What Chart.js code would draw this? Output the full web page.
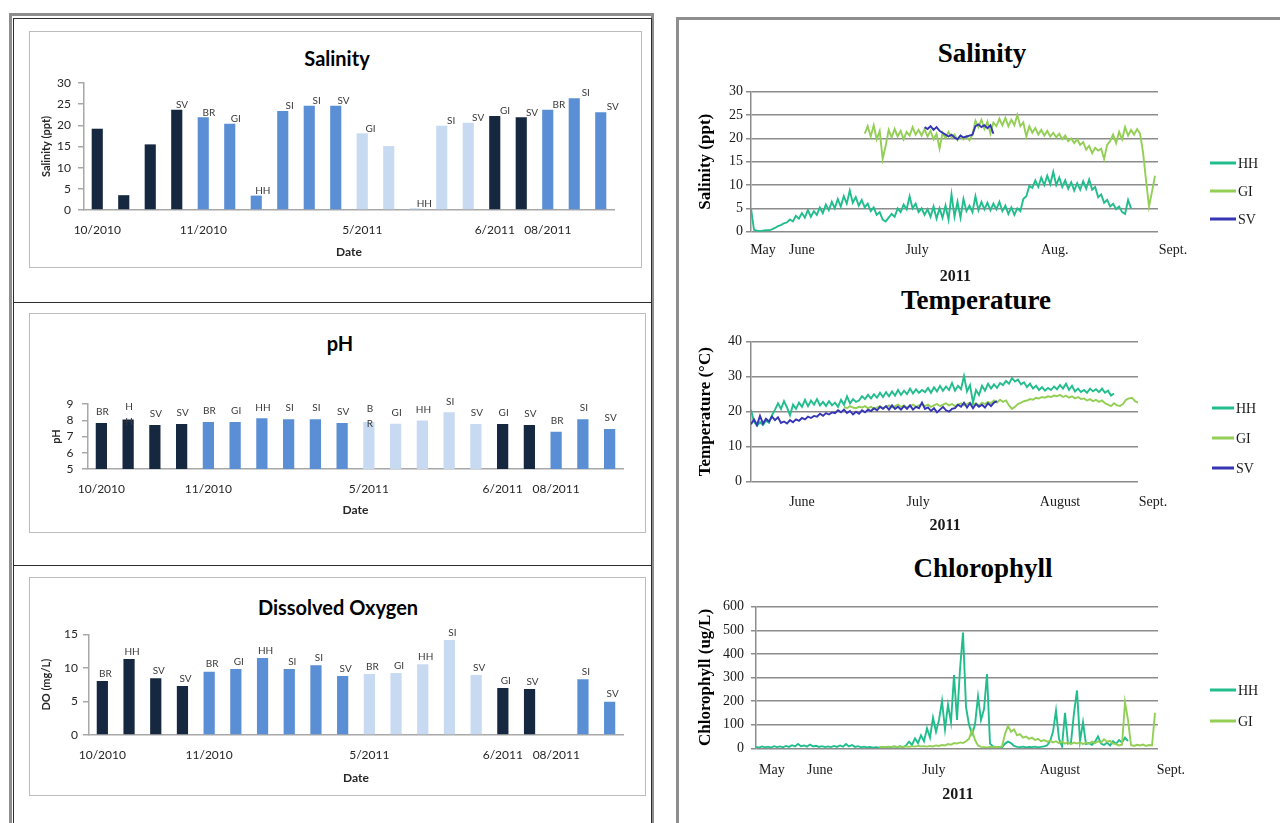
<!DOCTYPE html>
<html>
<head>
<meta charset="utf-8">
<script src="https://cdn.jsdelivr.net/npm/chart.js@4.4.0/dist/chart.umd.min.js"></script>
<style>
  html, body { margin: 0; padding: 0; background: #fff; width: 1280px; height: 823px; overflow: hidden; }
  .frame { position: absolute; border: 3px solid #8e8e8e; }
  .panel { position: absolute; border: 1px solid #2e2e2e; }
  .box { position: absolute; border: 1.5px solid #bcbcbc; }
  .ttl { position: absolute; transform: translate(-50%, -50%); white-space: nowrap; line-height: 1; color: #000; }
  .ttl.l { font: bold 20px Lato, sans-serif; }
  .ttl.r { font: bold 27px "Liberation Serif", serif; }
  canvas { position: absolute; }
</style>
</head>
<body>

<div class="frame" style="left:9px;top:13px;width:639px;height:900px"></div>
<div class="panel" style="left:13px;top:18px;width:637px;height:283px"></div>
<div class="panel" style="left:13px;top:302px;width:637px;height:262px"></div>
<div class="panel" style="left:13px;top:565px;width:637px;height:400px"></div>
<div class="box" style="left:29px;top:31px;width:611px;height:235px"></div>
<div class="box" style="left:29px;top:313px;width:615px;height:218px"></div>
<div class="box" style="left:29px;top:577px;width:615px;height:217px"></div>
<div class="frame" style="left:676px;top:17px;width:700px;height:900px"></div>

<div class="ttl l" style="left:337px;top:58px">Salinity</div>
<div class="ttl l" style="left:340px;top:343px">pH</div>
<div class="ttl l" style="left:338px;top:607px">Dissolved Oxygen</div>
<div class="ttl r" style="left:982px;top:53px">Salinity</div>
<div class="ttl r" style="left:976px;top:300px">Temperature</div>
<div class="ttl r" style="left:983px;top:568px">Chlorophyll</div>

<canvas id="barSal" width="610" height="236" style="left:31px;top:32px;width:610px;height:236px"></canvas>
<canvas id="barPh" width="615" height="219" style="left:31px;top:314px;width:615px;height:219px"></canvas>
<canvas id="barDo" width="615" height="218" style="left:31px;top:578px;width:615px;height:218px"></canvas>
<canvas id="lineSal" width="585" height="230" style="left:690px;top:62px;width:585px;height:230px"></canvas>
<canvas id="lineTemp" width="585" height="230" style="left:690px;top:315px;width:585px;height:230px"></canvas>
<canvas id="lineChl" width="585" height="230" style="left:690px;top:585px;width:585px;height:230px"></canvas>

<script>
// survey bars: one bar per site visit, shaded by sampling round
const surveyDates = ['10/2010','','','','11/2010','','','','','','5/2011','','','','','6/2011','','08/2011','',''];
const surveyRound = [0,0,0,0,1,1,1,1,1,1,2,2,2,2,2,0,0,1,1,1];

const salSites  = ['','','','SV','BR','GI','HH','SI','SI','SV','GI','','HH','SI','SV','GI','SV','BR','SI','SV'];
const salValues = [19.2,3.5,15.5,23.7,21.9,20.4,3.4,23.4,24.6,24.6,18.1,15.1,0.4,19.9,20.6,22.2,21.9,23.7,26.4,23.1];

const phSites  = ['BR','H\nH','SV','SV','BR','GI','HH','SI','SI','SV','B\nR','GI','HH','SI','SV','GI','SV','BR','SI','SV'];
const phValues = [7.83,8.04,7.71,7.77,7.89,7.89,8.12,8.06,8.06,7.83,7.89,7.79,7.99,8.49,7.77,7.77,7.71,7.3,8.06,7.46];

const doSites  = ['BR','HH','SV','SV','BR','GI','HH','SI','SI','SV','BR','GI','HH','SI','SV','GI','SV','','SI','SV'];
const doValues = [8.05,11.33,8.45,7.3,9.44,9.84,11.48,9.84,10.38,8.79,9.09,9.24,10.53,14.16,8.94,7.0,6.86,null,8.3,4.97];

// continuous logger records, 2011 (x = reading number)
const salHHStart = 0;
const salHH = [5.0,0.4,0.2,0.1,0.2,0.3,0.3,0.5,0.8,1.2,
  1.4,1.8,2.0,2.6,2.2,3.4,2.8,4.0,3.0,4.6,
  3.2,4.4,3.6,5.2,4.0,5.8,4.6,6.4,5.0,7.0,
  5.4,7.6,6.0,8.8,6.2,7.4,5.6,6.8,5.2,6.0,
  4.4,5.2,3.6,4.2,2.6,2.2,3.0,3.8,3.2,5.0,
  4.2,5.8,4.8,7.6,5.0,6.0,4.2,5.0,3.6,4.8,
  3.2,5.4,2.8,5.0,3.0,5.6,2.6,8.0,3.2,6.4,
  3.0,7.0,4.4,5.6,4.2,7.6,4.6,6.4,4.8,6.2,
  4.6,6.0,4.8,6.4,4.4,5.6,3.8,5.2,3.6,5.0,
  4.4,7.0,7.6,9.8,9.4,11.0,9.6,11.6,10.0,12.0,
  10.2,12.8,10.0,11.6,9.6,11.0,9.2,10.6,8.8,10.4,
  9.0,10.8,9.2,11.2,9.0,9.6,7.4,8.0,6.2,6.8,
  5.4,6.0,4.8,5.4,4.2,3.8,6.8,5.0];
const salGIStart = 38;
const salGI = [21.0,22.6,20.4,22.8,19.8,21.6,15.6,18.4,21.8,20.2,
  22.0,20.4,21.6,19.8,21.4,20.6,22.4,20.8,21.8,20.6,
  22.0,20.4,21.6,19.8,21.0,17.8,21.2,20.0,21.4,20.2,
  20.8,19.6,20.6,19.8,20.4,19.6,20.8,23.8,22.4,24.0,
  22.0,23.6,21.0,23.4,22.6,24.2,22.8,24.4,22.6,24.0,
  22.8,25.0,22.6,23.4,20.4,22.6,21.2,22.2,20.8,21.8,
  20.6,21.6,20.4,21.2,20.2,21.0,19.8,20.6,19.4,20.0,
  19.0,19.8,18.6,19.2,17.6,18.4,16.8,18.0,17.4,17.8,
  15.6,18.6,19.4,20.8,19.0,21.4,19.8,22.4,20.6,21.8,
  20.8,22.0,21.0,17.0,11.0,5.4,8.6,12.0];
const salSVStart = 58;
const salSV = [22.4,22.0,22.6,21.8,22.4,21.6,21.2,20.8,20.4,20.8,
  20.2,19.8,20.6,20.2,20.4,20.6,20.8,22.6,23.0,22.4,22.8,22.2,22.8,21.0];
const salMonthAt = [4, 17, 55.5, 101.5, 141];
const salMonthNames = ['May', 'June', 'July', 'Aug.', 'Sept.'];

const tempHHStart = 0;
const tempHH = [20.5,17.2,16.0,17.0,16.2,17.4,16.8,19.0,20.6,22.4,
  20.8,23.0,21.2,19.0,22.0,20.8,22.6,21.4,23.4,21.6,
  23.2,22.0,23.6,21.8,22.8,21.6,23.0,21.8,22.6,21.4,
  23.4,22.0,24.4,22.4,23.6,22.8,23.2,24.4,23.6,24.8,
  23.8,25.0,24.0,25.4,24.2,25.6,24.4,25.8,24.6,26.2,
  24.8,26.0,25.0,26.6,25.2,26.4,25.4,26.2,25.6,26.8,
  25.4,27.0,25.8,27.4,26.0,27.2,26.2,28.2,26.0,27.4,
  26.4,30.2,25.8,27.6,22.6,26.2,24.8,27.4,26.0,28.0,
  26.6,27.8,26.8,28.2,27.6,28.8,28.0,29.6,28.6,29.2,
  27.8,28.4,27.0,28.0,26.6,27.4,26.2,27.0,26.0,26.8,
  26.2,27.2,26.4,27.6,26.6,28.0,26.2,27.4,25.8,26.6,
  25.6,26.2,25.4,26.6,25.8,26.4,25.6,26.6,25.4,26.0,
  24.6,25.2];
const tempGIStart = 31;
const tempGI = [21.4,21.0,21.6,21.2,21.0,21.4,21.2,21.6,21.0,21.4,
  20.8,21.2,21.6,21.0,21.4,21.8,21.2,21.6,22.0,21.4,
  21.8,21.2,21.6,22.0,21.4,21.8,22.2,21.6,22.0,21.4,
  21.8,22.2,21.6,22.0,22.4,21.8,22.2,21.6,22.0,22.4,
  21.8,22.2,22.6,22.0,22.4,21.8,22.6,22.2,22.8,22.4,
  23.2,22.6,23.4,22.8,23.2,21.8,20.8,21.4,22.2,22.6,
  23.0,23.2,23.6,23.4,24.0,23.8,24.2,24.0,24.4,24.2,
  24.6,24.4,24.8,24.2,24.6,24.0,24.4,23.8,24.2,23.6,
  23.8,23.2,23.6,23.0,23.4,22.8,23.2,22.4,22.0,21.6,
  22.4,21.8,21.6,22.2,23.4,23.8,24.0,23.0,22.6];
const tempSVStart = 0;
const tempSV = [16.4,17.8,16.2,18.8,16.6,18.0,17.2,18.6,17.6,18.4,
  16.8,17.2,16.6,17.6,17.0,17.8,17.4,18.2,17.8,18.6,
  18.2,18.8,18.6,19.4,18.8,19.6,19.2,19.8,19.6,20.4,
  19.8,20.6,19.6,20.2,19.2,20.0,19.4,20.4,19.8,20.6,
  20.2,21.0,20.4,21.4,20.8,21.6,20.6,21.8,20.8,21.4,
  20.6,21.6,20.8,21.8,20.6,21.4,21.0,22.6,20.8,21.2,
  20.2,21.0,19.8,20.6,21.4,20.4,20.0,20.8,21.0,22.0,
  21.4,22.6,21.2,22.4,21.0,22.2,21.4,22.0,21.2,22.4,
  21.6,22.6,23.0];
const tempMonthAt = [17, 55.7, 103, 134];
const tempMonthNames = ['June', 'July', 'August', 'Sept.'];

const chlHHStart = 0;
const chlHH = [6,3,8,4,7,3,9,5,8,4,
  10,6,13,8,18,9,12,7,16,8,
  11,6,9,5,8,5,10,6,12,7,
  18,8,14,6,9,4,7,4,6,3,
  5,3,6,4,7,4,8,5,9,5,
  12,28,14,42,22,55,30,85,45,130,
  70,120,200,80,185,110,310,120,335,490,
  175,100,60,100,220,120,165,315,20,8,
  5,6,4,20,28,22,10,6,5,7,
  4,6,5,7,4,6,8,12,30,70,
  160,40,8,150,20,25,150,245,30,110,
  18,22,15,28,50,20,14,24,12,30,
  18,35,25,45,30];
const chlGIStart = 41;
const chlGI = [4,6,5,7,5,8,6,7,5,8,
  6,9,7,10,8,9,7,10,8,12,
  10,14,12,18,15,22,20,25,22,30,
  40,78,35,12,6,5,4,6,5,6,
  5,8,60,95,70,80,55,60,45,50,
  40,45,35,40,30,35,28,32,25,30,
  22,28,20,26,18,24,20,26,18,24,
  20,28,22,30,24,38,28,32,20,18,
  12,15,195,120,14,10,15,12,16,10,
  14,12,150];
const chlMonthAt = [5.3, 21.3, 59.3, 101.3, 138.3];
const chlMonthNames = ['May', 'June', 'July', 'August', 'Sept.'];

const roundColors = ['#162840', '#5a8fd6', '#c7daf2'];
const siteColors = { HH: '#21bd8d', GI: '#93cf55', SV: '#3535b5' };

Chart.defaults.font.family = 'Lato, sans-serif';

// station codes written above each bar
const siteLabels = {
  id: 'siteLabels',
  afterDatasetsDraw(chart, args, o) {
    const ctx = chart.ctx;
    const meta = chart.getDatasetMeta(0);
    ctx.save();
    ctx.font = '10px Lato, sans-serif';
    ctx.fillStyle = '#3a3a3a';
    ctx.textAlign = 'center';
    ctx.textBaseline = 'middle';
    meta.data.forEach((bar, i) => {
      const txt = o.labels[i];
      if (!txt || !Number.isFinite(bar.y)) return;
      const lines = txt.split('\n');
      const x = bar.x + o.dx + o.drift * i;
      const y0 = bar.y - o.dy - (lines.length - 1) * 2;
      lines.forEach((ln, k) => ctx.fillText(ln, x, y0 + k * 15));
    });
    ctx.restore();
  }
};

function barChart(id, values, sites, c) {
  new Chart(document.getElementById(id), {
    type: 'bar',
    data: {
      labels: surveyDates,
      datasets: [{
        data: values,
        backgroundColor: surveyRound.map(r => roundColors[r]),
        categoryPercentage: 1,
        barPercentage: 0.42
      }]
    },
    options: {
      responsive: false,
      animation: false,
      layout: { padding: { top: c.top, right: c.right, bottom: 0, left: 0 } },
      plugins: {
        legend: { display: false },
        tooltip: { enabled: false },
        siteLabels: { labels: sites, dx: c.dx, drift: c.drift, dy: c.dy }
      },
      scales: {
        x: {
          grid: { display: false, drawTicks: false },
          border: { color: '#a8a8a8', width: 1.5 },
          ticks: { autoSkip: false, maxRotation: 0, padding: 12.8, color: '#262626', font: { size: 12 } },
          title: { display: true, text: 'Date', color: '#262626', font: { size: 12, weight: 'bold' }, padding: { top: 0, bottom: c.dateGap } },
          afterFit: s => { s.height = c.xh; }
        },
        y: {
          min: c.min, max: c.max,
          ticks: { stepSize: c.step, autoSkip: false, padding: c.tickPad, color: '#262626', font: { size: 12 } },
          grid: { drawOnChartArea: false, drawTicks: true, tickLength: 6, color: '#a8a8a8', lineWidth: 1.5 },
          border: { color: '#a8a8a8', width: 1.5 },
          title: { display: true, text: c.yTitle, color: '#262626', font: { size: 11, weight: 'bold' }, padding: { top: c.titleGap, bottom: 0 } },
          afterFit: s => { s.width = c.yw; }
        }
      }
    },
    plugins: [siteLabels]
  });
}

barChart('barSal', salValues, salSites, {
  top: 51, right: 27, xh: 58, yw: 53, min: 0, max: 30, step: 5,
  tickPad: 7, titleGap: 8.4, dateGap: 8.8, yTitle: 'Salinity (ppt)', dx: 4, drift: 0.42, dy: 5
});
barChart('barPh', phValues, phSites, {
  top: 90, right: 23, xh: 64, yw: 57, min: 5, max: 9, step: 1,
  tickPad: 8.5, titleGap: 18.4, dateGap: 15.8, yTitle: 'pH', dx: 1, drift: 0, dy: 11
});
barChart('barDo', doValues, doSites, {
  top: 56.3, right: 23, xh: 61, yw: 58, min: 0, max: 15, step: 5,
  tickPad: 5, titleGap: 8.4, dateGap: 10.8, yTitle: 'DO (mg/L)', dx: 3, drift: 0, dy: 7.5
});

// month names, year and legend below/beside the logger plots
const monthAxis = {
  id: 'monthAxis',
  afterDraw(chart, args, o) {
    const { ctx, chartArea } = chart;
    const x = chart.scales.x;
    ctx.save();
    ctx.fillStyle = '#1a1a1a';
    ctx.textAlign = 'center';
    ctx.textBaseline = 'middle';
    ctx.font = '14px "Liberation Serif", serif';
    o.at.forEach((v, i) => ctx.fillText(o.names[i], x.getPixelForValue(v), chartArea.bottom + o.tickGap));
    ctx.font = 'bold 16px "Liberation Serif", serif';
    ctx.fillText('2011', x.getPixelForValue(o.yearAt), chartArea.bottom + o.yearGap);
    ctx.textAlign = 'left';
    ctx.font = '14px "Liberation Serif", serif';
    chart.data.datasets.forEach((ds, i) => {
      const y = o.legendY[i];
      ctx.strokeStyle = ds.borderColor;
      ctx.lineWidth = 3;
      ctx.beginPath();
      ctx.moveTo(o.legendX, y);
      ctx.lineTo(o.legendX + o.legendLine, y);
      ctx.stroke();
      ctx.fillText(ds.label, o.legendX + o.legendLine + 2, y + 1);
    });
    ctx.restore();
  }
};

function lineChart(id, series, c) {
  new Chart(document.getElementById(id), {
    type: 'line',
    data: {
      datasets: series.map(s => ({
        label: s.name,
        data: s.values.map((v, i) => ({ x: s.start + i, y: v })),
        borderColor: siteColors[s.name],
        borderWidth: 1.9,
        pointRadius: 0,
        tension: 0,
        fill: false,
        order: s.order
      }))
    },
    options: {
      responsive: false,
      animation: false,
      layout: { padding: { top: c.top, right: c.right, bottom: c.bottom, left: 0 } },
      plugins: {
        legend: { display: false },
        tooltip: { enabled: false },
        monthAxis: {
          at: c.monthAt, names: c.monthNames, tickGap: c.tickGap, yearAt: c.yearAt, yearGap: c.yearGap,
          legendX: c.legendX, legendLine: c.legendLine, legendY: c.legendY
        }
      },
      scales: {
        x: { type: 'linear', min: 0, max: c.xMax, display: false },
        y: {
          min: 0, max: c.yMax,
          ticks: { stepSize: c.step, autoSkip: false, padding: c.tickPad, color: '#1a1a1a', font: { family: '"Liberation Serif", serif', size: 14 } },
          grid: { color: '#8c8c8c', lineWidth: 1.5, tickLength: 5 },
          border: { color: '#8c8c8c', width: 1.5 },
          title: { display: true, text: c.yTitle, color: '#000', font: { family: '"Liberation Serif", serif', size: 17, weight: 'bold' }, padding: { top: 5.8, bottom: 0 } },
          afterFit: s => { s.width = c.yw; }
        }
      }
    },
    plugins: [monthAxis]
  });
}

lineChart('lineSal', [
  { name: 'HH', start: salHHStart, values: salHH, order: 3 },
  { name: 'GI', start: salGIStart, values: salGI, order: 2 },
  { name: 'SV', start: salSVStart, values: salSV, order: 1 }
], {
  top: 29.7, right: 117, bottom: 60.3, yw: 61, xMax: 136, yMax: 30, step: 5, tickPad: 3,
  yTitle: 'Salinity (ppt)', monthAt: salMonthAt, monthNames: salMonthNames, tickGap: 18.3,
  yearAt: 68.3, yearGap: 45.3, legendX: 520, legendLine: 26, legendY: [101, 129, 157]
});

lineChart('lineTemp', [
  { name: 'HH', start: tempHHStart, values: tempHH, order: 2 },
  { name: 'GI', start: tempGIStart, values: tempGI, order: 3 },
  { name: 'SV', start: tempSVStart, values: tempSV, order: 1 }
], {
  top: 26.7, right: 137, bottom: 63.3, yw: 61, xMax: 129, yMax: 40, step: 10, tickPad: 4,
  yTitle: 'Temperature (\u00B0C)', monthAt: tempMonthAt, monthNames: tempMonthNames, tickGap: 20.3,
  yearAt: 64.7, yearGap: 44.3, legendX: 522, legendLine: 22, legendY: [93, 123, 153]
});

lineChart('lineChl', [
  { name: 'HH', start: chlHHStart, values: chlHH, order: 2 },
  { name: 'GI', start: chlGIStart, values: chlGI, order: 1 }
], {
  top: 21.7, right: 117, bottom: 66.7, yw: 66, xMax: 134, yMax: 600, step: 100, tickPad: 7,
  yTitle: 'Chlorophyll (ug/L)', monthAt: chlMonthAt, monthNames: chlMonthNames, tickGap: 21.7,
  yearAt: 67.3, yearGap: 46.7, legendX: 520, legendLine: 26, legendY: [105, 136]
});
</script>
</body>
</html>
